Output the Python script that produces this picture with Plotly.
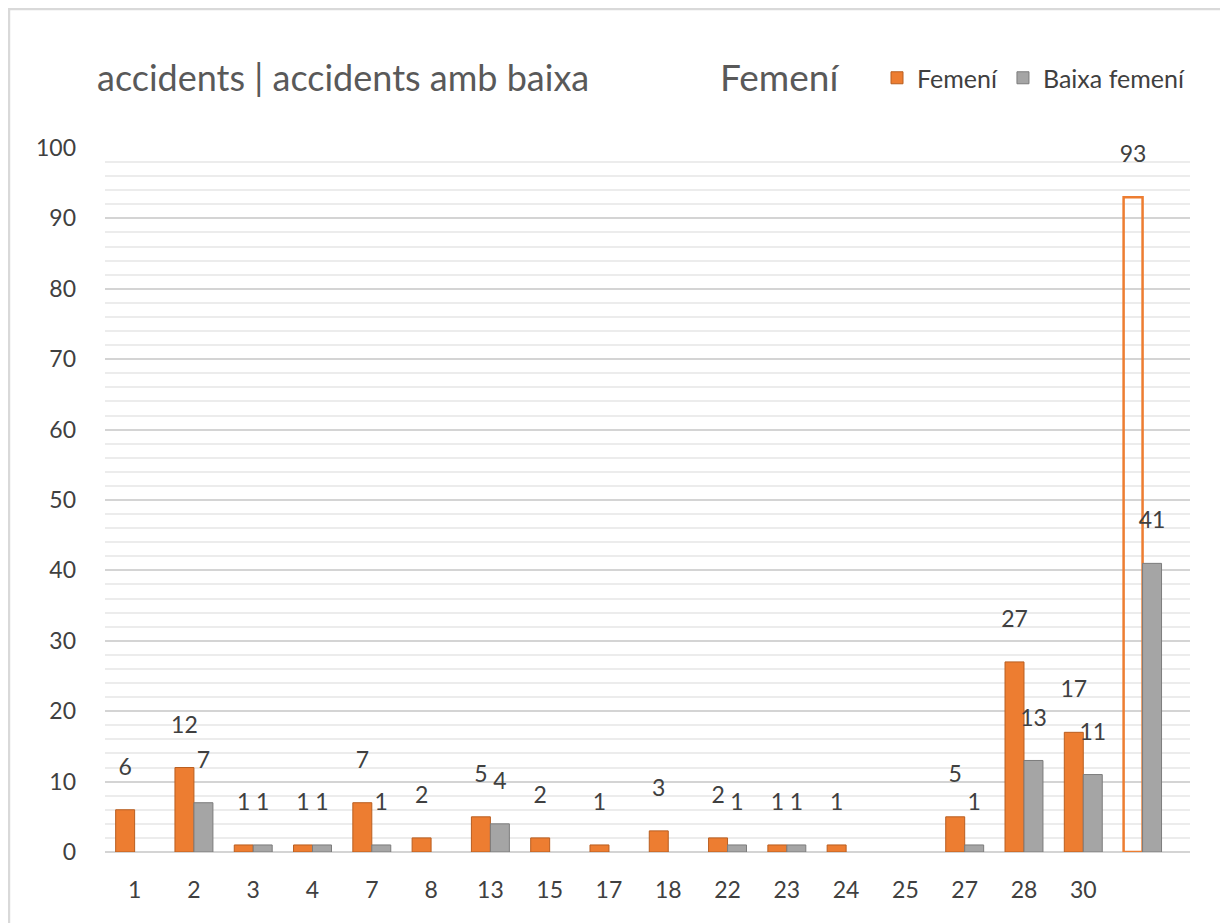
import plotly.graph_objects as go

# categories (last one has no label in the source chart)
categories = ["1", "2", "3", "4", "7", "8", "13", "15", "17", "18",
              "22", "23", "24", "25", "27", "28", "30", " "]
femeni = [6, 12, 1, 1, 7, 2, 5, 2, 1, 3, 2, 1, 1, None, 5, 27, 17, 93]
baixa_femeni = [None, 7, 1, 1, 1, None, 4, None, None, None, 1, 1, None, None, 1, 13, 11, 41]
y_ticks = [0, 10, 20, 30, 40, 50, 60, 70, 80, 90, 100]

ORANGE = '#ed7d31'
ORANGE_DARK = '#b95e20'
GREY = '#a5a5a5'
GREY_DARK = '#7c7c7c'
TXT = '#404040'
FONT = 'Lato, "Open Sans", sans-serif'


def labels(vals):
    # small blank line under the number lifts the label like Excel's 3D labels
    return [("" if v is None else f"{v}<br><span style='font-size:11px'> </span>") for v in vals]


n = len(categories)
fem_fill = [ORANGE] * (n - 1) + ['rgba(0,0,0,0)']
fem_line = [ORANGE_DARK] * (n - 1) + [ORANGE]
fem_lw = [1] * (n - 1) + [2.5]

fig = go.Figure()
fig.add_trace(go.Bar(
    name='Femení',
    x=categories,
    y=femeni,
    marker=dict(color=fem_fill, line=dict(color=fem_line, width=fem_lw)),
    text=labels(femeni),
    textposition='outside',
    constraintext='none',
    textfont=dict(size=23, color=TXT),
    cliponaxis=False,
))
fig.add_trace(go.Bar(
    name='Baixa femení',
    x=categories,
    y=baixa_femeni,
    marker=dict(color=GREY, line=dict(color=GREY_DARK, width=1)),
    text=labels(baixa_femeni),
    textposition='outside',
    constraintext='none',
    textfont=dict(size=23, color=TXT),
    cliponaxis=False,
))

fig.update_layout(
    barmode='group',
    bargap=0.36,
    bargroupgap=0.0,
    width=1220,
    height=915,
    paper_bgcolor='white',
    plot_bgcolor='white',
    font=dict(family=FONT, color=TXT),
    margin=dict(l=97, r=38, t=140, b=71),
    xaxis=dict(
        type='category',
        categoryorder='array',
        categoryarray=categories,
        range=[-0.5, 17.8],
        tickfont=dict(size=23, color=TXT),
        showline=False,
        ticks='',
        ticklabelstandoff=22,
    ),
    yaxis=dict(
        range=[0, 100],
        tickvals=y_ticks,
        tickfont=dict(size=23, color=TXT),
        gridcolor='#d4d4d4',
        gridwidth=2,
        zeroline=True,
        zerolinecolor='#d4d4d4',
        zerolinewidth=2,
        minor=dict(dtick=2, showgrid=True, gridcolor='#ececec', gridwidth=1.5),
        ticklabelstandoff=28,
    ),
    legend=dict(
        orientation='h',
        x=1.0, xanchor='right',
        y=1.0994, yanchor='middle',
        font=dict(size=25, color=TXT),
        itemwidth=30,
        traceorder='normal',
    ),
    showlegend=True,
    annotations=[
        dict(text='accidents | accidents amb baixa', xref='paper', yref='paper',
             x=-0.0092, y=1.1009, xanchor='left', yanchor='middle', showarrow=False,
             font=dict(size=36, color='#595959', family=FONT)),
        dict(text='Femení', xref='paper', yref='paper',
             x=0.565, y=1.1009, xanchor='left', yanchor='middle', showarrow=False,
             font=dict(size=37, color='#595959', family=FONT)),
    ],
    shapes=[
        dict(type='rect', xref='paper', yref='paper', x0=-0.0885, x1=1.1, y0=-0.2, y1=1.1974,
             line=dict(color='#d9d9d9', width=2.5)),
    ],
)

fig.write_html("out.html")
